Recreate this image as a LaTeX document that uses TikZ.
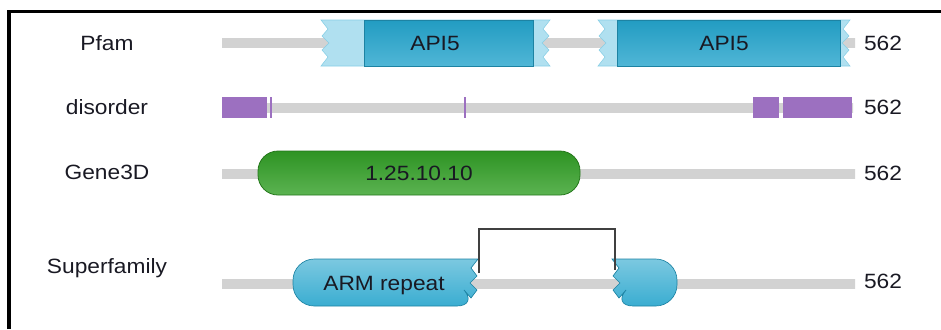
\documentclass[tikz,border=0pt]{standalone}
\usepackage{fontspec}
\setmainfont{Liberation Sans}[FakeStretch=1.1]
\definecolor{domblue}{RGB}{36,164,204}
\definecolor{domlight}{RGB}{176,224,240}
\definecolor{domgreen}{RGB}{50,160,38}
\definecolor{dispurple}{RGB}{156,112,192}
\definecolor{lbltext}{RGB}{25,25,35}
\tikzset{
	lbl/.style={inner sep=0pt, text height=11pt, text depth=0pt, text=lbltext, font=\fontsize{15.5}{18}\selectfont},
	track/.style={top color=gray!35, middle color=gray!58, bottom color=gray!35},
	pfamlight/.style={top color=domlight, middle color=domlight!30!white, bottom color=domlight, draw=domlight!70!domblue, line width=0.4pt},
	pfamdark/.style={top color=domblue!95!black, middle color=domblue, bottom color=domblue!80!white, draw=domblue!80!black, line width=0.4pt},
	cathbox/.style={top color=domgreen!92!black, middle color=domgreen, bottom color=domgreen!80!white, draw=domgreen!75!black, line width=0.6pt},
	armbox/.style={top color=domblue!60!white, middle color=domblue!95!black, bottom color=domblue!90!white, draw=domblue!80!black, line width=0.5pt},
	disblock/.style={fill=dispurple}
}
\begin{document}
\begin{tikzpicture}[x=0.75pt, y=-0.75pt]
		\useasboundingbox (0,0) rectangle (941,329);
		% frame
		\draw[line width=2.6pt, line join=miter] (9,329) -- (9,11.5) -- (941,11.5);
		% row labels
		\node[lbl] (pfam) at (107,43) {Pfam};
		\node[lbl] (disorder) at (107,107) {disorder};
		\node[lbl] (gene3d) at (107,172) {Gene3D};
		\node[lbl] (superfam) at (107,266) {Superfamily};
		% tracks
		\shade[track] (222,38) rectangle (855,47);
		\shade[track] (222,103) rectangle (853,112);
		\shade[track] (222,169) rectangle (855,178);
		\shade[track] (222,279) rectangle (855,288);
		\node[lbl] (lenA) at (883,43) {562};
		\node[lbl] (lenB) at (883,107) {562};
		\node[lbl] (lenC) at (883,173) {562};
		\node[lbl] (lenD) at (883,281) {562};
		% Pfam
		\shade[pfamlight] (321,20) -- (328,29) -- (322,36) -- (329,43) -- (322,50) -- (328,57) -- (321,66) -- (550,66) -- (543,57) -- (549,50) -- (542,43) -- (549,36) -- (543,29) -- (550,20) -- cycle;
		\shade[pfamdark] (364,20) rectangle (533,66);
		\node[lbl] (apiA) at (435,43) {API5};
		\shade[pfamlight] (598,20) -- (605,29) -- (599,36) -- (606,43) -- (599,50) -- (605,57) -- (598,66) -- (850,66) -- (843,57) -- (849,50) -- (842,43) -- (849,36) -- (843,29) -- (850,20) -- cycle;
		\shade[pfamdark] (617,20) rectangle (840,66);
		\node[lbl] (apiB) at (724,43) {API5};
		% disorder
		\fill[disblock] (222,97) rectangle (267,118);
		\fill[disblock] (269.5,97) rectangle (271.5,118);
		\fill[disblock] (464,97) rectangle (466,118);
		\fill[disblock] (753,97) rectangle (779,118);
		\fill[disblock] (783,97) rectangle (852,118);
		% Gene3D
		\shade[cathbox, rounded corners=15pt] (258,151) rectangle (580,195);
		\node[lbl] (cath) at (419,173) {1.25.10.10};
		% Superfamily
		\shade[armbox] (478,259) [rounded corners=16pt] -- (293,259) -- (293,306) -- (478,306) [sharp corners] -- (471,298) -- (477,290) -- (470,283) -- (477,276) -- (471,268) -- cycle;
		\shade[armbox] (612,259) [rounded corners=16pt] -- (677,259) -- (677,306) -- (612,306) [sharp corners] -- (619,298) -- (613,290) -- (620,283) -- (613,276) -- (619,268) -- cycle;
		\node[lbl] (arm) at (384,283) {ARM repeat};
		\coordinate (armA) at (479,273);
		\coordinate (armB) at (615,270);
		\draw[line width=1.5pt, draw=black!75] (armA) -- ++(0,-44) -| (armB);
	\end{tikzpicture}
\end{document}
